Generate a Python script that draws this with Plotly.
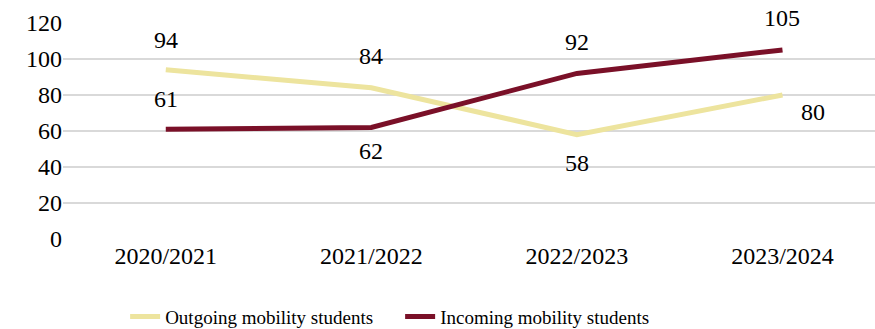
import plotly.graph_objects as go

years = ["2020/2021", "2021/2022", "2022/2023", "2023/2024"]
outgoing = [94, 84, 58, 80]
incoming = [61, 62, 92, 105]
y_ticks = [0, 20, 40, 60, 80, 100, 120]

# label offsets (px) per point: (xshift, yshift)
out_off = [(0, 30), (0, 32), (0, -28), (31, -17)]
in_off = [(0, 30), (0, -24), (0, 31), (0, 32)]

FONT = "Times New Roman, 'Liberation Serif', 'DejaVu Serif', serif"
FS = 24
YELLOW = "#EDE49E"
MAROON = "#7A1028"

fig = go.Figure()
fig.add_trace(go.Scatter(x=years, y=outgoing, mode="lines", name="Outgoing mobility students",
                         line=dict(color=YELLOW, width=5)))
fig.add_trace(go.Scatter(x=years, y=incoming, mode="lines", name="Incoming mobility students",
                         line=dict(color=MAROON, width=5)))

ann = []
for vals, offs in ((outgoing, out_off), (incoming, in_off)):
    for x, v, (dx, dy) in zip(years, vals, offs):
        ann.append(dict(x=x, y=v, text=str(v), showarrow=False, xshift=dx, yshift=dy,
                        font=dict(family=FONT, size=FS, color="#000000")))

fig.update_layout(
    width=875, height=329,
    margin=dict(l=63, r=0, t=23, b=90, autoexpand=False),
    paper_bgcolor="white", plot_bgcolor="white",
    font=dict(family=FONT, size=FS, color="#000000"),
    showlegend=True,
    legend=dict(orientation="h", xref="container", yref="container", x=0.143, y=0.095,
                xanchor="left", yanchor="top", entrywidth=230, entrywidthmode="pixels",
                font=dict(family=FONT, size=19, color="#000000"), bgcolor="rgba(0,0,0,0)"),
    annotations=ann,
)
fig.update_xaxes(range=[-0.5, 3.45], showgrid=False, showline=False, ticks="", zeroline=False,
                 automargin=False, tickfont=dict(family=FONT, size=FS))
fig.update_yaxes(range=[0, 120], tickvals=y_ticks, showgrid=True, gridcolor="#D9D9D9", gridwidth=1.5,
                 zeroline=False, showline=False, ticks="", ticklen=0, automargin=False,
                 tickfont=dict(family=FONT, size=FS))
fig.write_html("out.html", config={"displayModeBar": False},
               post_script="document.body.style.margin='0';")
